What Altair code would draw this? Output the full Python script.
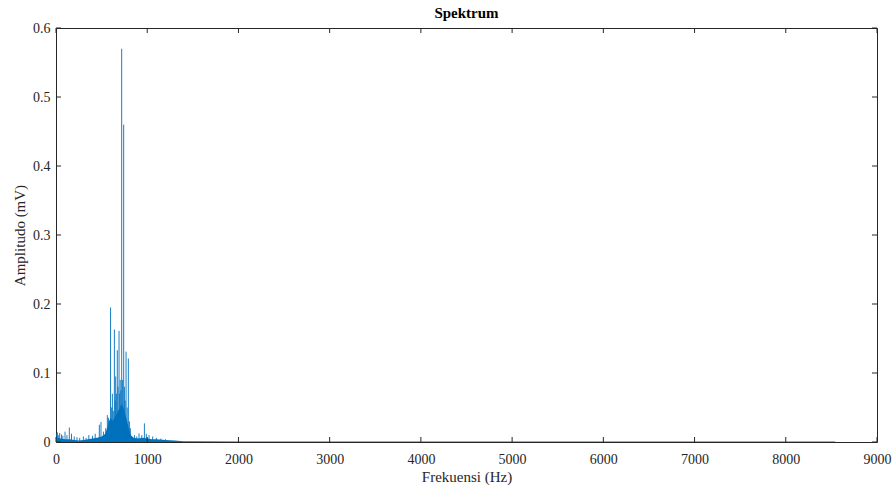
import altair as alt
import pandas as pd

# Dense low-level spectrum envelope (Hz, amplitude mV)
env_freq = [0, 20, 50, 100, 150, 200, 250, 300, 350, 400, 450, 500, 540, 560, 580,
            600, 620, 640, 660, 680, 700, 720, 740, 760, 780, 800, 820, 850, 900,
            950, 1000, 1050, 1100, 1200, 1300, 1400, 1500, 2000, 3000, 4000, 5000,
            6000, 7000, 8000, 8540, 8545]
env_amp = [0.004, 0.006, 0.005, 0.004, 0.004, 0.003, 0.002, 0.003, 0.004, 0.005,
           0.006, 0.008, 0.012, 0.02, 0.03, 0.035, 0.03, 0.035, 0.04, 0.045, 0.05,
           0.055, 0.05, 0.04, 0.03, 0.018, 0.01, 0.006, 0.005, 0.006, 0.005, 0.004,
           0.004, 0.003, 0.002, 0.0012, 0.001, 0.0009, 0.0008, 0.0008, 0.0008,
           0.0008, 0.0008, 0.0008, 0.0008, 0.0]

# Individual spectral peaks (Hz, amplitude mV)
peak_freq = [8, 15, 25, 40, 60, 75, 99, 120, 146, 170, 200, 230, 260, 300, 330, 360,
             400, 430, 475, 493, 520, 545, 563, 575, 598, 610, 618, 628, 640, 648,
             654, 662, 672, 680, 691, 698, 704, 712, 720, 730, 742, 750, 758, 768,
             780, 793, 805, 815, 860, 885, 910, 940, 969, 990, 1020, 1060, 1100,
             1150, 1200]
peak_amp = [0.012, 0.014, 0.01, 0.013, 0.011, 0.009, 0.015, 0.01, 0.021, 0.012,
            0.008, 0.007, 0.006, 0.008, 0.006, 0.01, 0.009, 0.012, 0.025, 0.029,
            0.015, 0.02, 0.039, 0.035, 0.195, 0.05, 0.07, 0.045, 0.163, 0.06, 0.095,
            0.07, 0.133, 0.08, 0.161, 0.07, 0.09, 0.075, 0.57, 0.09, 0.46, 0.08,
            0.06, 0.131, 0.05, 0.121, 0.03, 0.02, 0.01, 0.008, 0.0125, 0.01, 0.027,
            0.012, 0.01, 0.008, 0.006, 0.005, 0.004]

x_ticks = [0, 1000, 2000, 3000, 4000, 5000, 6000, 7000, 8000, 9000]
y_ticks = [0, 0.1, 0.2, 0.3, 0.4, 0.5, 0.6]

W, H = 821, 414
BLUE = "#0072BD"
AX = "#262626"
FONT = "Liberation Serif"

env = pd.DataFrame({"f": env_freq, "a": env_amp})
peaks = pd.DataFrame({"f": peak_freq, "a": peak_amp, "z": [0.0] * len(peak_freq)})
xt = pd.DataFrame({"f": x_ticks})
yt = pd.DataFrame({"a": y_ticks})

xscale = alt.Scale(domain=[0, 9000], nice=False, zero=False)
yscale = alt.Scale(domain=[0, 0.6], nice=False)

xaxis = alt.Axis(values=x_ticks, format="d", title="Frekuensi (Hz)",
                 labelPadding=10, titlePadding=3, labelFlush=False)
yaxis = alt.Axis(values=y_ticks, format="~g", title="Amplitudo (mV)",
                 labelPadding=6, titlePadding=5, labelFlush=False)

X = alt.X("f:Q", scale=xscale, axis=xaxis)
Y = alt.Y("a:Q", scale=yscale, axis=yaxis)

area = alt.Chart(env).mark_area(color=BLUE, opacity=1, interpolate="linear").encode(
    x=X, y=Y)
spikes = alt.Chart(peaks).mark_rule(color=BLUE, strokeWidth=0.9).encode(
    x=X, y=Y, y2="z:Q")

tk = dict(color=AX, strokeWidth=1)
xt_bot = alt.Chart(xt).mark_rule(**tk).encode(
    x=X, y=alt.value(H), y2=alt.value(H - 5))
xt_top = alt.Chart(xt).mark_rule(**tk).encode(
    x=X, y=alt.value(0), y2=alt.value(5))
yt_left = alt.Chart(yt).mark_rule(**tk).encode(
    y=Y, x=alt.value(0), x2=alt.value(5))
yt_right = alt.Chart(yt).mark_rule(**tk).encode(
    y=Y, x=alt.value(W), x2=alt.value(W - 5))

chart = alt.layer(area, spikes, xt_bot, xt_top, yt_left, yt_right).properties(
    width=W, height=H,
    background="white",
    title=alt.TitleParams("Spektrum", font=FONT, fontSize=15, fontWeight="bold",
                          color="#000000", offset=0, anchor="middle"),
    autosize=alt.AutoSizeParams(type="none"),
    padding={"left": 56, "top": 28, "right": 17, "bottom": 44},
).configure_view(
    stroke=AX, strokeWidth=1
).configure_axis(
    ticks=False, domain=False, grid=False,
    labelFont=FONT, labelFontSize=14, labelColor=AX,
    titleFont=FONT, titleFontSize=15, titleColor=AX, titleFontWeight="normal",
)

chart.save("out.html", embed_options={"renderer": "svg", "actions": False})
